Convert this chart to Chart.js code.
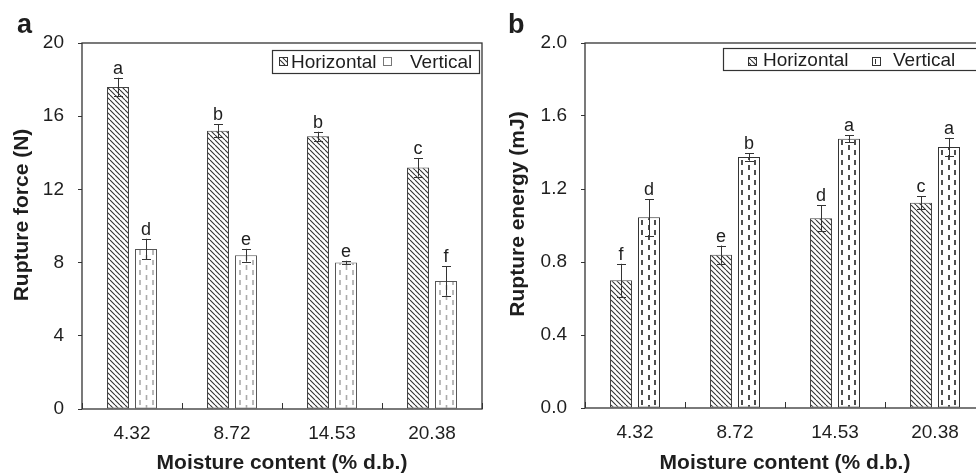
<!DOCTYPE html>
<html>
<head>
<meta charset="utf-8">
<script src="https://cdn.jsdelivr.net/npm/chart.js@4.4.1/dist/chart.umd.min.js"></script>
<style>
  body { margin: 0; overflow: hidden; background: #fff; }
  #wrap { position: relative; width: 976px; height: 473px; overflow: hidden; }
  .panel { position: absolute; top: 0; height: 473px; }
</style>
</head>
<body>
<div id="wrap">
  <div class="panel" style="left:0;width:486px"><canvas id="chartA" width="486" height="473"></canvas></div>
  <div class="panel" style="left:486px;width:510px"><canvas id="chartB" width="510" height="473"></canvas></div>
</div>
<script>
// data
const categories = ['4.32', '8.72', '14.53', '20.38'];

const forceHorizontal = [17.6, 15.2, 14.9, 13.2];
const forceHorizontalErr = [0.5, 0.35, 0.25, 0.5];
const forceVertical = [8.75, 8.4, 8.0, 7.0];
const forceVerticalErr = [0.55, 0.35, 0.1, 0.8];
const forceHorizontalLetters = ['a', 'b', 'b', 'c'];
const forceVerticalLetters = ['d', 'e', 'e', 'f'];
const forceTicks = [0, 4, 8, 12, 16, 20];

const energyHorizontal = [0.70, 0.84, 1.04, 1.125];
const energyHorizontalErr = [0.09, 0.05, 0.07, 0.035];
const energyVertical = [1.045, 1.375, 1.475, 1.43];
const energyVerticalErr = [0.10, 0.02, 0.02, 0.05];
const energyHorizontalLetters = ['f', 'e', 'd', 'c'];
const energyVerticalLetters = ['d', 'b', 'a', 'a'];
const energyTicks = [0, 0.4, 0.8, 1.2, 1.6, 2.0];

const FONT = '"Liberation Sans", Arial, sans-serif';
const INK = '#1e1e1e';
const CAT_PCT = 0.56;
const BAR_PCT = 0.786;

// diagonal hatch tile
function hatchTile() {
  const c = document.createElement('canvas');
  c.width = 5; c.height = 5;
  const g = c.getContext('2d');
  g.fillStyle = '#fff';
  g.fillRect(0, 0, 5, 5);
  g.strokeStyle = '#333';
  g.lineWidth = 1.1;
  g.beginPath();
  for (let k = -1; k <= 1; k++) { g.moveTo(k * 5, 0); g.lineTo(k * 5 + 5, 5); }
  g.stroke();
  return c;
}

// staggered dashed columns, one tile per bar width
function dashTile(color, cols, lw) {
  const c = document.createElement('canvas');
  c.width = 22; c.height = 10;
  const g = c.getContext('2d');
  g.fillStyle = '#fff';
  g.fillRect(0, 0, 22, 10);
  g.fillStyle = color;
  cols.forEach((x, i) => g.fillRect(x - lw / 2, i % 2 ? 5 : 0, lw, 5));
  return c;
}

function makeChart(id, cfg) {
  const canvas = document.getElementById(id);
  const hatch = canvas.getContext('2d').createPattern(hatchTile(), 'repeat');
  const dashes = dashTile(cfg.dashColor, cfg.dashCols, cfg.dashWidth);

  // pattern pinned to each vertical bar's left edge
  const verticalFill = (ctx) => {
    const xs = ctx.chart.scales.x;
    const p = ctx.chart.ctx.createPattern(dashes, 'repeat');
    if (ctx.type === 'data' && xs && xs.width) {
      const catW = xs.width / categories.length;
      const barW = catW * CAT_PCT / 2 * BAR_PCT;
      const left = xs.getPixelForValue(ctx.dataIndex) + catW * CAT_PCT / 4 - barW / 2;
      p.setTransform(new DOMMatrix().translate(Math.round(left), 0));
    }
    return p;
  };

  const values = [cfg.horizontal, cfg.vertical];
  const errors = [cfg.horizontalErr, cfg.verticalErr];
  const letters = [cfg.horizontalLetters, cfg.verticalLetters];

  const decor = {
    id: 'decor',
    afterDatasetsDraw(chart) {
      const { ctx, chartArea: a, scales: { y } } = chart;
      ctx.save();
      // error bars + letters
      ctx.strokeStyle = '#333';
      ctx.lineWidth = 1;
      ctx.fillStyle = INK;
      ctx.font = '18px ' + FONT;
      ctx.textAlign = 'center';
      ctx.textBaseline = 'alphabetic';
      [0, 1].forEach((di) => {
        chart.getDatasetMeta(di).data.forEach((bar, i) => {
          const v = values[di][i], e = errors[di][i];
          const yt = y.getPixelForValue(v + e), yb = y.getPixelForValue(v - e);
          const x = Math.round(bar.x) + 0.5;
          ctx.beginPath();
          ctx.moveTo(x, yt); ctx.lineTo(x, yb);
          ctx.moveTo(x - 4.5, Math.round(yt) + 0.5); ctx.lineTo(x + 4.5, Math.round(yt) + 0.5);
          ctx.moveTo(x - 4.5, Math.round(yb) + 0.5); ctx.lineTo(x + 4.5, Math.round(yb) + 0.5);
          ctx.stroke();
          ctx.fillText(letters[di][i], bar.x, yt - 4);
        });
      });
      // frame
      ctx.lineWidth = 1.3;
      ctx.strokeRect(a.left, a.top, a.right - a.left, a.bottom - a.top);
      ctx.restore();
    },
    afterDraw(chart) {
      const { ctx, chartArea: a } = chart;
      const L = cfg.legend;
      ctx.save();
      // legend box
      ctx.fillStyle = '#fff';
      ctx.fillRect(L.x, L.y, L.w, L.h);
      ctx.strokeStyle = '#333';
      ctx.lineWidth = 1.2;
      ctx.strokeRect(L.x + 0.5, L.y + 0.5, L.w, L.h);
      ctx.fillStyle = hatch;
      ctx.fillRect(L.sw1, L.swY, 8, 8);
      ctx.lineWidth = 1;
      ctx.strokeRect(L.sw1 + 0.5, L.swY + 0.5, 8, 8);
      ctx.strokeStyle = cfg.legendVStroke;
      ctx.strokeRect(L.sw2 + 0.5, L.swY + 0.5, 8, 8);
      if (cfg.legendVLine) {
        ctx.beginPath();
        ctx.moveTo(L.sw2 + 3.5, L.swY + 2); ctx.lineTo(L.sw2 + 3.5, L.swY + 7);
        ctx.stroke();
      }
      ctx.fillStyle = INK;
      ctx.font = '19px ' + FONT;
      ctx.textAlign = 'left';
      ctx.textBaseline = 'alphabetic';
      ctx.fillText('Horizontal', L.t1, L.base);
      ctx.fillText('Vertical', L.t2, L.base);
      // axis titles
      ctx.font = 'bold 21px ' + FONT;
      ctx.textAlign = 'center';
      ctx.fillText('Moisture content (% d.b.)', (a.left + a.right) / 2, 469);
      ctx.save();
      ctx.translate(cfg.yTitleX, cfg.yTitleY);
      ctx.rotate(-Math.PI / 2);
      ctx.textBaseline = 'middle';
      ctx.fillText(cfg.yTitle, 0, 0);
      ctx.restore();
      // panel letter
      ctx.font = 'bold 27px ' + FONT;
      ctx.textAlign = 'left';
      ctx.fillText(cfg.panel, cfg.panelX, 33);
      ctx.restore();
    }
  };

  return new Chart(canvas, {
    type: 'bar',
    data: {
      labels: categories,
      datasets: [{
        label: 'Horizontal',
        data: cfg.horizontal,
        backgroundColor: hatch,
        borderColor: '#444',
        borderWidth: 1,
        borderSkipped: false,
        categoryPercentage: CAT_PCT,
        barPercentage: BAR_PCT,
      }, {
        label: 'Vertical',
        data: cfg.vertical,
        backgroundColor: verticalFill,
        borderColor: cfg.vBorder,
        borderWidth: 1,
        borderSkipped: false,
        categoryPercentage: CAT_PCT,
        barPercentage: BAR_PCT,
      }],
    },
    options: {
      responsive: false,
      animation: false,
      events: [],
      layout: { padding: { top: 43, right: cfg.padRight, bottom: 0, left: 0 } },
      plugins: { legend: { display: false }, tooltip: { enabled: false } },
      scales: {
        x: {
          grid: { drawOnChartArea: false, tickLength: -6, color: '#333', offset: true },
          border: { display: false },
          ticks: { font: { family: FONT, size: 19 }, color: INK, padding: 19 },
          afterFit: (s) => { s.height = cfg.xHeight; },
        },
        y: {
          min: 0,
          max: cfg.ticks[cfg.ticks.length - 1],
          grid: { drawOnChartArea: false, tickLength: 4, color: '#333' },
          border: { display: false },
          ticks: {
            font: { family: FONT, size: 19 }, color: INK, padding: 14,
            callback: (v) => v.toFixed(cfg.decimals),
          },
          afterBuildTicks: (s) => { s.ticks = cfg.ticks.map((v) => ({ value: v })); },
          afterFit: (s) => { s.width = cfg.yWidth; },
        },
      },
    },
    plugins: [decor],
  });
}

makeChart('chartA', {
  horizontal: forceHorizontal, horizontalErr: forceHorizontalErr,
  vertical: forceVertical, verticalErr: forceVerticalErr,
  horizontalLetters: forceHorizontalLetters, verticalLetters: forceVerticalLetters,
  ticks: forceTicks, decimals: 0,
  yWidth: 82, xHeight: 64, padRight: 4,
  dashColor: '#aaa', dashCols: [5, 11.5, 18], dashWidth: 1.6, vBorder: '#555',
  yTitle: 'Rupture force (N)', yTitleX: 22, yTitleY: 215,
  panel: 'a', panelX: 17,
  legend: { x: 272, y: 50, w: 207, h: 23, sw1: 279, sw2: 383, swY: 57, t1: 291, t2: 410, base: 68 },
  legendVStroke: '#777', legendVLine: false,
});

makeChart('chartB', {
  horizontal: energyHorizontal, horizontalErr: energyHorizontalErr,
  vertical: energyVertical, verticalErr: energyVerticalErr,
  horizontalLetters: energyHorizontalLetters, verticalLetters: energyVerticalLetters,
  ticks: energyTicks, decimals: 1,
  yWidth: 99, xHeight: 65, padRight: 11,
  dashColor: '#222', dashCols: [4, 11, 17], dashWidth: 1.6, vBorder: '#333',
  yTitle: 'Rupture energy (mJ)', yTitleX: 32, yTitleY: 214,
  panel: 'b', panelX: 22,
  legend: { x: 237, y: 48, w: 300, h: 22, sw1: 262, sw2: 386, swY: 57, t1: 277, t2: 407, base: 66 },
  legendVStroke: '#333', legendVLine: true,
});
</script>
</body>
</html>
